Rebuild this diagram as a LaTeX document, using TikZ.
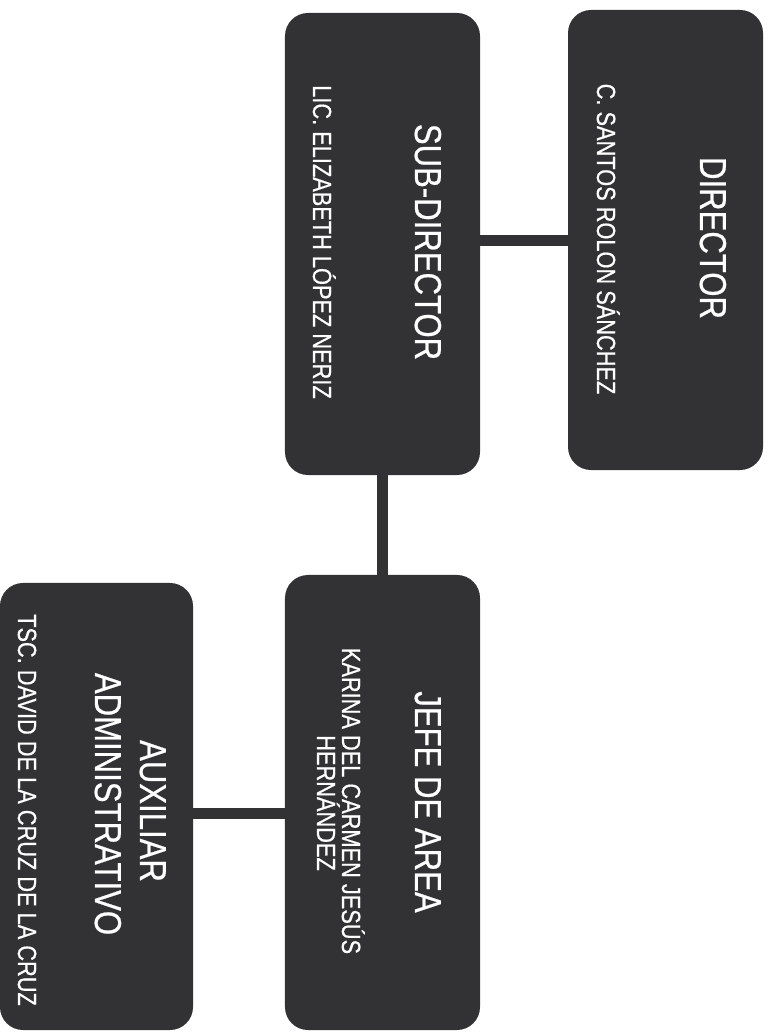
\documentclass[tikz,border=0pt]{standalone}
\usepackage{fontspec}
\setmainfont{Liberation Sans}[FakeStretch=0.83, FakeBold=0.6]
\definecolor{fondocaja}{RGB}{50,50,52}

\begin{document}
\begin{tikzpicture}[x=0.03cm, y=-0.03cm, line cap=butt,
    caja/.style={rotate=-90, fill=fondocaja, draw=none, inner sep=0pt,
                 rounded corners=0.69cm},
    titulo/.style={rotate=-90, anchor=base, text=white, inner sep=0pt,
                   font=\fontsize{32}{38}\selectfont},
    nombre/.style={rotate=-90, anchor=base, text=white, inner sep=0pt,
                   font=\fontsize{22.4}{26}\selectfont},
    enlace/.style={fondocaja, line width=0.33cm}]
    \useasboundingbox (0,0) rectangle (775,1032);
    % --- cajas del organigrama (giradas, el texto se lee hacia abajo)
    \node[caja, minimum width=13.8cm,  minimum height=5.85cm] (dir)   at (665.5,240) {};
    \node[caja, minimum width=13.86cm, minimum height=5.85cm] (sub)   at (382.5,244) {};
    \node[caja, minimum width=13.65cm, minimum height=5.85cm] (jefe)  at (382.5,802.5) {};
    \node[caja, minimum width=13.41cm, minimum height=5.79cm] (aux)   at (96.5,806.5) {};
    % --- lineas de mando
    \coordinate (nivel) at (0,813);
    \draw[enlace] (dir.south) -- (dir.south -| sub.north);
    \draw[enlace] (sub.east) -- (sub.east |- jefe.west);
    \draw[enlace] (jefe.south |- nivel) -- (aux.north |- nivel);
    % --- rotulos de cada puesto
    \node[titulo] (tdir)   at (700,238) {DIRECTOR};
    \node[nombre] (ndir)   at (597,239) {C. SANTOS ROLON SÁNCHEZ};
    \node[titulo] (tsub)   at (415,242) {SUB-DIRECTOR};
    \node[nombre] (nsub)   at (313,242) {LIC. ELIZABETH LÓPEZ NERIZ};
    \node[titulo] (tjefe)  at (415,802) {JEFE DE AREA};
    \node[nombre] (njefe)  at (342,801) {KARINA DEL CARMEN JESÚS};
    \node[nombre] (njefeb) at (317,803) {HERNÁNDEZ};
    \node[titulo] (taux)   at (140,811) {AUXILIAR};
    \node[titulo] (tauxb)  at (95,804)  {ADMINISTRATIVO};
    \node[nombre] (naux)   at (18,810)  {TSC. DAVID DE LA CRUZ DE LA CRUZ};
\end{tikzpicture}
\end{document}
